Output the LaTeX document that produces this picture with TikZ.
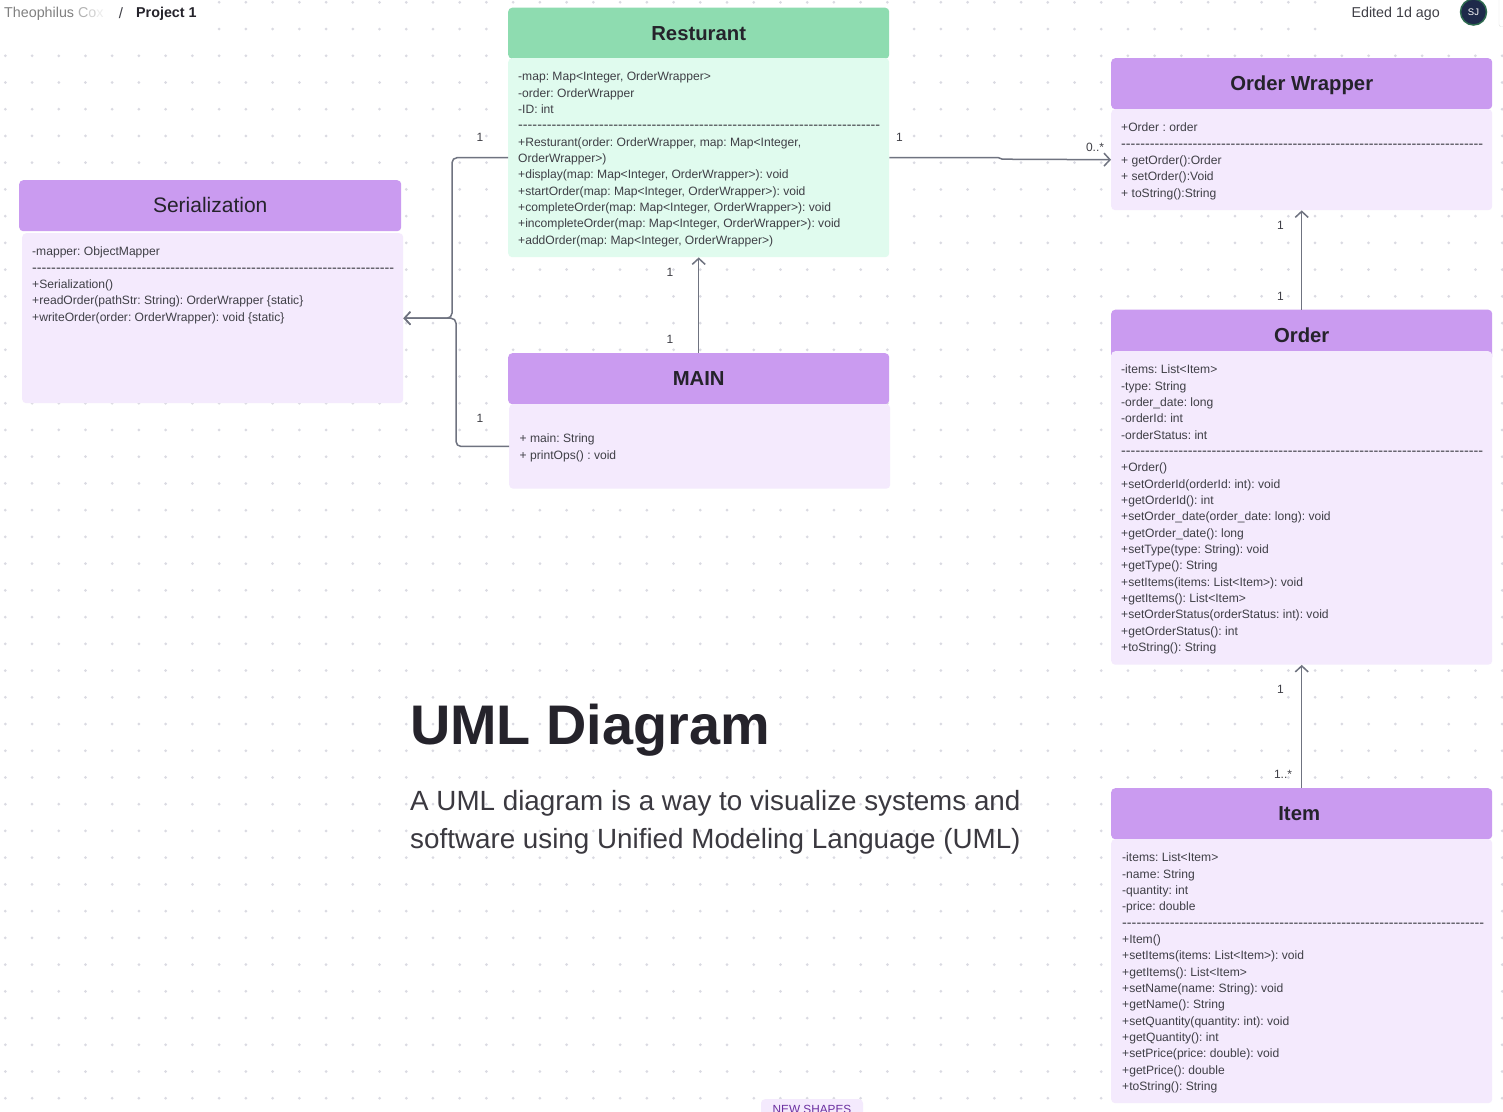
\documentclass[tikz,border=0pt]{standalone}
\usepackage{fontspec}
\setmainfont{Liberation Sans}
\newfontfamily\dashfont{Liberation Sans}
\usetikzlibrary{arrows.meta}
\frenchspacing
\definecolor{headpurple}{HTML}{CA9BF0}
\definecolor{bodypurple}{HTML}{F4EAFD}
\definecolor{headgreen}{HTML}{8EDCB0}
\definecolor{bodygreen}{HTML}{E0FBEE}
\definecolor{inkdark}{HTML}{25232B}
\definecolor{inktext}{HTML}{3F3F46}
\definecolor{linegray}{HTML}{6F7380}
\definecolor{griddot}{HTML}{DADAE2}
\definecolor{tagpurple}{HTML}{6B2FA0}
\definecolor{avatarnavy}{HTML}{1E2A4A}
\definecolor{avatargreen}{HTML}{2E6B4F}
\newcommand{\dashrow}{{\dashfont\fontsize{14.3}{16.33}\selectfont ----------------------------------------------------------------------------}}
\tikzset{
  head/.style={anchor=north west,rounded corners=4pt,fill=headpurple,text=inkdark,minimum width=381pt,minimum height=51pt,inner sep=0pt,text height=19.5pt,text depth=5pt,font=\fontsize{20.3}{25}\selectfont\bfseries},
  body/.style={anchor=north west,rounded corners=4pt,fill=bodypurple,minimum width=381pt,inner sep=0pt},
  items/.style={anchor=north west,align=left,inner sep=0pt,text=inktext,font=\fontsize{12.1}{16.33}\selectfont},
  mult/.style={inner sep=0pt,text=inktext,font=\fontsize{12}{14}\selectfont},
  conn/.style={draw=linegray,line width=1.5pt,-{Straight Barb[length=6pt,width=13pt,line width=1.5pt]}},
}
\begin{document}
\begin{tikzpicture}[x=1pt,y=-1pt]
  \clip (0,0) rectangle (1503,1111);
  \fill[white] (0,0) rectangle (1503,1111);
  % dotted canvas
  \foreach \i in {0,...,56}
    \foreach \j in {2,...,41}
      \fill[griddot] (5.3+26.73*\i,2.3+26.73*\j) circle (1.5);
  \foreach \i in {8,...,49}
    \foreach \j in {0,1}
      \fill[griddot] (5.3+26.73*\i,2.3+26.73*\j) circle (1.5);

  % top bar
  \node[anchor=west,inner sep=0pt,font=\fontsize{14.3}{17}\selectfont,text=gray] (owner) at (4,14) {Theophilus \textcolor{gray!60}{C}\textcolor{gray!35}{o}\textcolor{gray!15}{x}};
  \node[inner sep=0pt,font=\fontsize{15}{17}\selectfont,text=inktext] (slash) at (121,13) {/};
  \node[anchor=west,inner sep=0pt,font=\fontsize{14.3}{17}\selectfont\bfseries,text=inkdark] (project) at (136,14) {Project 1};
  \node[anchor=east,inner sep=0pt,font=\fontsize{14.3}{17}\selectfont,text=inktext] (edited) at (1440,14) {Edited 1d ago};
  \node[circle,fill=avatarnavy,draw=avatargreen,line width=1.5pt,minimum size=26pt,inner sep=0pt,text=white,font=\fontsize{9.5}{11}\selectfont] (avatar) at (1473.5,12) {SJ};
  \draw[black!12,rounded corners=2pt] (1503,26.5) -- (1499,26.5) -- (1499,-2);

  % Serialization
  \node[head,minimum width=382pt,font=\fontsize{21}{25}\selectfont] (ser head) at (19,180) {Serialization};
  \node[body,minimum height=170pt] (ser body) at (22,233) {};
  \node[items] (ser text) at (32,247) {-mapper: ObjectMapper\\\dashrow\\+Serialization()\\+readOrder(pathStr: String): OrderWrapper \{static\}\\+writeOrder(order: OrderWrapper): void \{static\}};

  % Resturant
  \node[head,fill=headgreen] (rest head) at (508,7.5) {Resturant};
  \node[body,fill=bodygreen,minimum height=199pt] (rest body) at (508,58) {};
  \node[items] (rest text) at (518,72) {-map: Map<Integer, OrderWrapper>\\-order: OrderWrapper\\-ID: int\\\dashrow\\+Resturant(order: OrderWrapper, map: Map<Integer,\\OrderWrapper>)\\+display(map: Map<Integer, OrderWrapper>): void\\+startOrder(map: Map<Integer, OrderWrapper>): void\\+completeOrder(map: Map<Integer, OrderWrapper>): void\\+incompleteOrder(map: Map<Integer, OrderWrapper>): void\\+addOrder(map: Map<Integer, OrderWrapper>)};

  % MAIN
  \node[head] (main head) at (508,353) {MAIN};
  \node[body,minimum height=84.5pt] (main body) at (509,404) {};
  \node[items] (main text) at (519.5,434) {+ main: String\\+ printOps() : void};

  % Order Wrapper
  \node[head] (wrap head) at (1111,58) {Order Wrapper};
  \node[body,minimum height=101pt] (wrap body) at (1111,109) {};
  \node[items] (wrap text) at (1121,123) {+Order : order\\\dashrow\\+ getOrder():Order\\+ setOrder():Void\\+ toString():String};

  % Order
  \node[head] (order head) at (1111,309.5) {Order};
  \node[body,minimum height=313.5pt] (order body) at (1111,351) {};
  \node[items] (order text) at (1121,365) {-items: List<Item>\\-type: String\\-order\_date: long\\-orderId: int\\-orderStatus: int\\\dashrow\\+Order()\\+setOrderId(orderId: int): void\\+getOrderId(): int\\+setOrder\_date(order\_date: long): void\\+getOrder\_date(): long\\+setType(type: String): void\\+getType(): String\\+setItems(items: List<Item>): void\\+getItems(): List<Item>\\+setOrderStatus(orderStatus: int): void\\+getOrderStatus(): int\\+toString(): String};

  % Item
  \node[head] (item head) at (1111,788) {\hspace*{-5pt}Item};
  \node[body,minimum height=264pt] (item body) at (1111,839) {};
  \node[items] (item text) at (1122,853) {-items: List<Item>\\-name: String\\-quantity: int\\-price: double\\\dashrow\\+Item()\\+setItems(items: List<Item>): void\\+getItems(): List<Item>\\+setName(name: String): void\\+getName(): String\\+setQuantity(quantity: int): void\\+getQuantity(): int\\+setPrice(price: double): void\\+getPrice(): double\\+toString(): String};

  % connectors
  \draw[conn,rounded corners=5pt] (rest body.west) -- ++(-56,0) |- (ser body.east);
  \draw[conn,rounded corners=5pt] (main body.west) -- ++(-53,0) |- (ser body.east);
  \draw[conn] (main head.north) -- (rest body.south);
  \draw[conn] (rest body.east) -- ++(109,0) -- ++(4,1.5) -- (wrap body.west);
  \draw[conn] (order head.north) -- (wrap body.south);
  \draw[conn] (item head.north) -- (order body.south);

  % multiplicities
  \node[mult] (m1) at (480,137) {1};
  \node[mult] (m2) at (480,418) {1};
  \node[mult] (m3) at (670,272) {1};
  \node[mult] (m4) at (670,339) {1};
  \node[mult] (m5) at (899.5,137) {1};
  \node[mult] (m6) at (1095,147) {0..*};
  \node[mult] (m7) at (1280.5,225) {1};
  \node[mult] (m8) at (1280.5,296) {1};
  \node[mult] (m9) at (1280.5,689) {1};
  \node[mult] (m10) at (1283,774) {1..*};

  % title
  \node[anchor=west,inner sep=0pt,text=inkdark,font=\fontsize{55.8}{64}\selectfont\bfseries] (title) at (410,730.5) {UML Diagram};
  \node[anchor=north west,align=left,inner sep=0pt,text=inkdark!90,font=\fontsize{27.8}{38}\selectfont] (subtitle) at (410,790) {A UML diagram is a way to visualize systems and\\software using Unified Modeling Language (UML)};

  % tag at the bottom edge
  \node[anchor=north,rounded corners=4pt,fill=bodypurple,minimum width=102pt,minimum height=20pt,inner sep=0pt,text=tagpurple,font=\fontsize{11.8}{13}\selectfont] (tag) at (812,1099) {NEW SHAPES};
\end{tikzpicture}
\end{document}
